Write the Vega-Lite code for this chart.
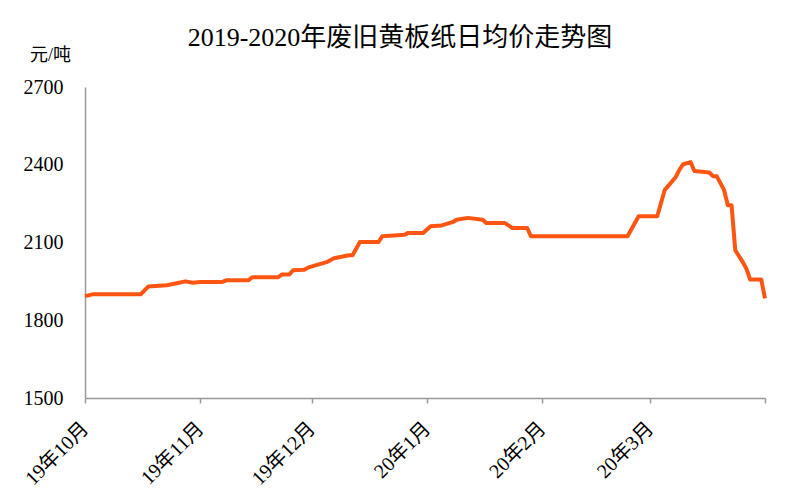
{
  "$schema": "https://vega.github.io/schema/vega-lite/v6.json",
  "width": 680,
  "height": 311,
  "autosize": {"type": "none"},
  "padding": {"left": 85, "top": 87, "right": 35, "bottom": 102},
  "background": "white",
  "config": {
    "view": {"stroke": null},
    "font": "Liberation Serif, Noto Sans CJK SC"
  },
  "title": {
    "text": "2019-2020年废旧黄板纸日均价走势图",
    "fontSize": 26,
    "fontWeight": "normal",
    "color": "#000000",
    "anchor": "middle",
    "dx": -25,
    "offset": -5,
    "font": "Liberation Serif, Noto Sans CJK SC"
  },
  "data": {
    "values": [
      {"date": "2019-10-01", "price": 1893},
      {"date": "2019-10-03", "price": 1900},
      {"date": "2019-10-16", "price": 1900},
      {"date": "2019-10-18", "price": 1930},
      {"date": "2019-10-23", "price": 1935},
      {"date": "2019-10-26", "price": 1944},
      {"date": "2019-10-28", "price": 1950},
      {"date": "2019-10-30", "price": 1945},
      {"date": "2019-11-01", "price": 1948},
      {"date": "2019-11-07", "price": 1948},
      {"date": "2019-11-08", "price": 1954},
      {"date": "2019-11-14", "price": 1954},
      {"date": "2019-11-15", "price": 1966},
      {"date": "2019-11-22", "price": 1966},
      {"date": "2019-11-23", "price": 1977},
      {"date": "2019-11-25", "price": 1977},
      {"date": "2019-11-26", "price": 1993},
      {"date": "2019-11-29", "price": 1995},
      {"date": "2019-11-30", "price": 2003},
      {"date": "2019-12-02", "price": 2012},
      {"date": "2019-12-05", "price": 2024},
      {"date": "2019-12-07", "price": 2039},
      {"date": "2019-12-11", "price": 2051},
      {"date": "2019-12-12", "price": 2051},
      {"date": "2019-12-14", "price": 2102},
      {"date": "2019-12-19", "price": 2102},
      {"date": "2019-12-20", "price": 2124},
      {"date": "2019-12-26", "price": 2130},
      {"date": "2019-12-27", "price": 2137},
      {"date": "2019-12-31", "price": 2137},
      {"date": "2020-01-02", "price": 2163},
      {"date": "2020-01-05", "price": 2166},
      {"date": "2020-01-07", "price": 2175},
      {"date": "2020-01-08", "price": 2179},
      {"date": "2020-01-09", "price": 2188},
      {"date": "2020-01-12", "price": 2195},
      {"date": "2020-01-16", "price": 2188},
      {"date": "2020-01-17", "price": 2175},
      {"date": "2020-01-22", "price": 2175},
      {"date": "2020-01-24", "price": 2156},
      {"date": "2020-01-28", "price": 2156},
      {"date": "2020-01-29", "price": 2124},
      {"date": "2020-02-24", "price": 2124},
      {"date": "2020-02-27", "price": 2201},
      {"date": "2020-03-03", "price": 2201},
      {"date": "2020-03-05", "price": 2302},
      {"date": "2020-03-08", "price": 2353},
      {"date": "2020-03-09", "price": 2381},
      {"date": "2020-03-10", "price": 2402},
      {"date": "2020-03-12", "price": 2410},
      {"date": "2020-03-13", "price": 2376},
      {"date": "2020-03-17", "price": 2370},
      {"date": "2020-03-18", "price": 2356},
      {"date": "2020-03-19", "price": 2356},
      {"date": "2020-03-21", "price": 2302},
      {"date": "2020-03-22", "price": 2244},
      {"date": "2020-03-23", "price": 2244},
      {"date": "2020-03-24", "price": 2070},
      {"date": "2020-03-26", "price": 2025},
      {"date": "2020-03-27", "price": 1999},
      {"date": "2020-03-28", "price": 1957},
      {"date": "2020-03-31", "price": 1957},
      {"date": "2020-04-01", "price": 1884}
    ]
  },
  "mark": {"type": "line", "color": "#FF5512", "strokeWidth": 4, "strokeJoin": "round"},
  "encoding": {
    "x": {
      "field": "date",
      "type": "temporal",
      "scale": {"domain": [{"year": 2019, "month": 10, "date": 1}, {"year": 2020, "month": 4, "date": 1}], "nice": false},
      "axis": {
        "title": null,
        "format": "%y年%-m月",
        "labelExpr": "month(datum.value) == 3 ? '' : datum.label",
        "values": [
          {"year": 2019, "month": 10, "date": 1},
          {"year": 2019, "month": 11, "date": 1},
          {"year": 2019, "month": 12, "date": 1},
          {"year": 2020, "month": 1, "date": 1},
          {"year": 2020, "month": 2, "date": 1},
          {"year": 2020, "month": 3, "date": 1},
          {"year": 2020, "month": 4, "date": 1}
        ],
        "labelAngle": -45,
        "labelAlign": "right",
        "labelBaseline": "middle",
        "labelFontSize": 20,
        "labelColor": "#000000",
        "labelPadding": 22,
        "labelOverlap": false,
        "labelFlush": false,
        "grid": false,
        "domainColor": "#999999",
        "domainWidth": 1.5,
        "tickColor": "#999999",
        "tickSize": 5,
        "tickWidth": 1.5
      }
    },
    "y": {
      "field": "price",
      "type": "quantitative",
      "scale": {"domain": [1500, 2700], "nice": false, "zero": false},
      "axis": {
        "title": "元/吨",
        "titleAngle": 0,
        "titleX": -35,
        "titleY": -32,
        "titleAlign": "center",
        "titleBaseline": "middle",
        "titleFontSize": 18,
        "titleFontWeight": "normal",
        "titleColor": "#000000",
        "values": [1500, 1800, 2100, 2400, 2700],
        "format": "d",
        "labelFontSize": 20,
        "labelColor": "#000000",
        "labelPadding": 22,
        "ticks": false,
        "grid": false,
        "domainColor": "#999999",
        "domainWidth": 1.5
      }
    }
  }
}
